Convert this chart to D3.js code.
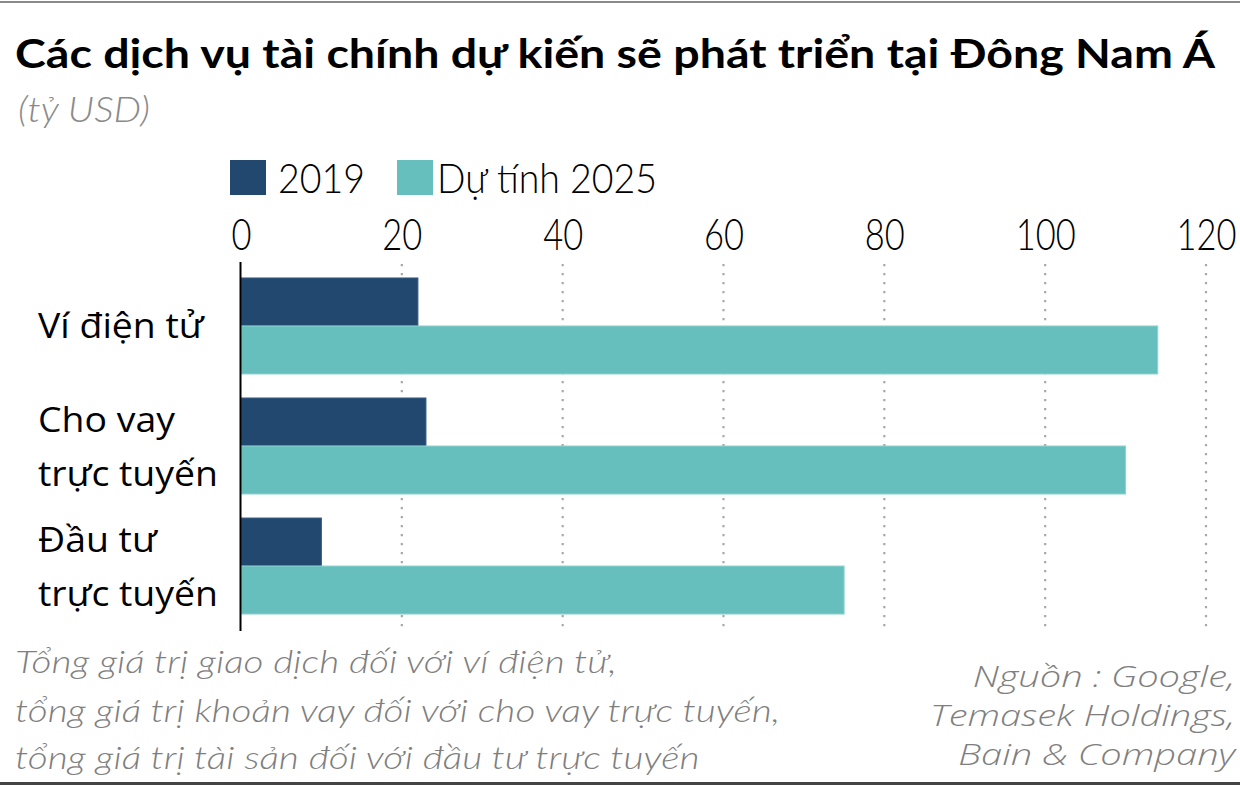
<!DOCTYPE html>
<html><head><meta charset="utf-8">
<script src="https://cdn.jsdelivr.net/npm/d3@7"></script>
<style>
html,body{margin:0;padding:0;background:#fff;}
svg{display:block;}
</style></head>
<body>
<svg id="c" width="1240" height="785"></svg>
<script>
const categories = [["Ví điện tử"], ["Cho vay", "trực tuyến"], ["Đầu tư", "trực tuyến"]];
const seriesNames = ["2019", "Dự tính 2025"];
const values2019 = [22, 23, 10];
const values2025 = [114, 110, 75];
const tickValues = [0, 20, 40, 60, 80, 100, 120];
const titleText = "Các dịch vụ tài chính dự kiến sẽ phát triển tại Đông Nam Á";
const subtitleText = "(tỷ USD)";
const noteLines = ["Tổng giá trị giao dịch đối với ví điện tử,", "tổng giá trị khoản vay đối với cho vay trực tuyến,", "tổng giá trị tài sản đối với đầu tư trực tuyến"];
const sourceLines = ["Nguồn : Google,", "Temasek Holdings,", "Bain & Company"];
const colors = ["#224870", "#66bfbc"];
const strokes = ["#3a5f86", "#8ed3cf"];

const svg = d3.select("#c");
const W = 1240, H = 785;
const FONT = "Lato, 'Open Sans', sans-serif";

function squeeze(sel, ratio) {
  sel.each(function () {
    const w = this.getComputedTextLength();
    if (w > 0) d3.select(this).attr("textLength", (w * ratio).toFixed(1)).attr("lengthAdjust", "spacingAndGlyphs");
  });
}
function ratioFor(sel, target) {
  const w = sel.node().getComputedTextLength();
  return w > 0 ? target / w : 1;
}

// borders
svg.append("line").attr("x1", 0).attr("x2", W).attr("y1", 2).attr("y2", 2).attr("stroke", "#8a8a8a").attr("stroke-width", 2);
svg.append("line").attr("x1", 0).attr("x2", W).attr("y1", 783.5).attr("y2", 783.5).attr("stroke", "#444").attr("stroke-width", 3);

// title
const title = svg.append("text").attr("x", 15).attr("y", 68).attr("font-family", FONT)
  .attr("font-weight", 700).attr("font-size", 41).attr("fill", "#000").text(titleText);
squeeze(title, ratioFor(title, 1200));

const sub = svg.append("text").attr("x", 18).attr("y", 122).attr("font-family", FONT)
  .attr("font-style", "italic").attr("font-weight", 300).attr("font-size", 35).attr("fill", "#8a8a8a").text(subtitleText);
squeeze(sub, ratioFor(sub, 132));

// scales
const x = d3.scaleLinear().domain([0, 120]).range([241, 1206]);
const y0 = d3.scaleBand().domain(d3.range(categories.length)).range([262, 630]).paddingInner(0.2).paddingOuter(0.133);
const y1 = d3.scaleBand().domain([0, 1]).range([0, y0.bandwidth()]);

// grid
const grid = svg.append("g");
grid.selectAll("line").data(tickValues.filter(d => d > 0)).join("line")
  .attr("x1", d => x(d)).attr("x2", d => x(d)).attr("y1", 264).attr("y2", 630)
  .attr("stroke", "#a8a8a8").attr("stroke-width", 2.2).attr("stroke-dasharray", "2.2,6.8");

// top axis labels (narrowed with a horizontal scale around each tick)
const axis = d3.axisTop(x).tickValues(tickValues).tickSize(0).tickPadding(0).tickFormat(d3.format("d"));
const ag = svg.append("g").attr("transform", "translate(0,250)").call(axis);
ag.select(".domain").remove();
ag.selectAll("text").attr("font-family", FONT).attr("font-weight", 300).attr("font-size", 43).attr("fill", "#000").attr("dy", 0);
{
  const r = ratioFor(ag.selectAll("text").filter(d => d === 100), 60);
  ag.selectAll("text").attr("transform", `scale(${r.toFixed(3)},1)`);
}

// bars
const series = [values2019, values2025];
const groups = svg.append("g").selectAll("g").data(categories).join("g")
  .attr("transform", (d, i) => `translate(0,${y0(i)})`);
groups.selectAll("rect").data((d, i) => series.map((s, k) => ({k, v: s[i]}))).join("rect")
  .attr("x", x(0)).attr("y", d => y1(d.k)).attr("width", d => x(d.v) - x(0)).attr("height", y1.bandwidth())
  .attr("fill", d => colors[d.k]).attr("stroke", d => strokes[d.k]).attr("stroke-width", 1);

// axis line
svg.append("line").attr("x1", 240.5).attr("x2", 240.5).attr("y1", 262).attr("y2", 631).attr("stroke", "#000").attr("stroke-width", 2);

// category labels
const lab = svg.append("g");
categories.forEach((lines, i) => {
  const c = y0(i) + y0.bandwidth() / 2;
  lines.forEach((ln, j) => {
    lab.append("text").attr("x", 38).attr("y", c + 12.5 + (j - (lines.length - 1) / 2) * 54)
      .attr("font-family", "'Open Sans', Lato, sans-serif").attr("font-size", 34).attr("fill", "#000").text(ln);
  });
});
{
  const probe = lab.selectAll("text").filter(function () { return this.textContent === "trực tuyến"; });
  const r = ratioFor(d3.select(probe.node()), 180);
  squeeze(lab.selectAll("text"), r);
}

// legend
const lg = svg.append("g");
const legX = [230, 397];
seriesNames.forEach((n, k) => {
  lg.append("rect").attr("x", legX[k]).attr("y", 160).attr("width", 36).attr("height", 35).attr("fill", colors[k]);
});
const lt = lg.selectAll("text").data(seriesNames).join("text")
  .attr("x", (d, k) => [278, 437][k]).attr("y", 193).attr("font-family", FONT).attr("font-weight", 300)
  .attr("font-size", 42).attr("fill", "#000").text(d => d);
squeeze(lt, ratioFor(d3.select(lt.nodes()[0]), 87));

// footnote
const nb = [673, 722, 769];
const notes = svg.append("g").selectAll("text").data(noteLines).join("text").attr("x", 15).attr("y", (d, i) => nb[i])
  .attr("font-family", FONT).attr("font-style", "italic").attr("font-weight", 300)
  .attr("font-size", 32).attr("fill", "#7f7f7f").text(d => d);
squeeze(notes, ratioFor(d3.select(notes.nodes()[1]), 765));

// source
const sb = [687, 726, 765];
const srcs = svg.append("g").selectAll("text").data(sourceLines).join("text").attr("x", 1235).attr("y", (d, i) => sb[i]).attr("text-anchor", "end")
  .attr("font-family", "'Open Sans', Lato, sans-serif").attr("font-style", "italic").attr("font-weight", 300)
  .attr("font-size", 30).attr("fill", "#7f7f7f").text(d => d);
squeeze(srcs, ratioFor(d3.select(srcs.nodes()[1]), 305));
</script>
</body></html>
